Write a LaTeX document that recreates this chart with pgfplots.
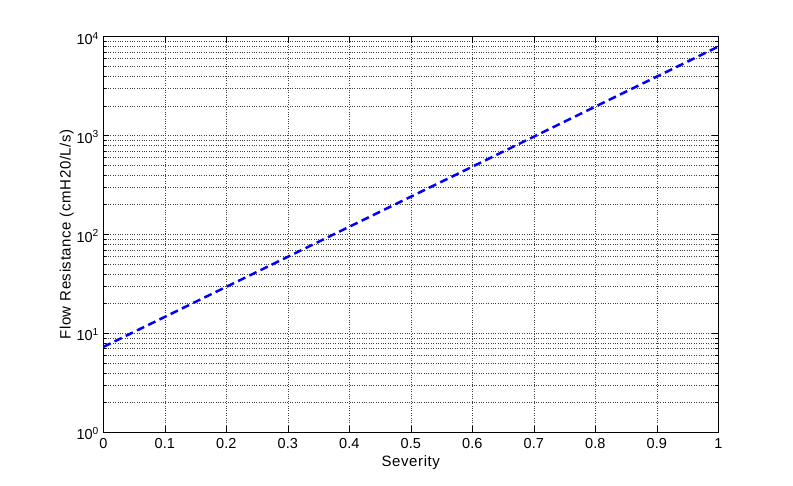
\documentclass[border=0pt]{standalone}
\usepackage{pgfplots}
\pgfplotsset{compat=1.18}
\usepackage{fontspec}
\setmainfont{Liberation Sans}
\begin{document}
\begin{tikzpicture}
\useasboundingbox (-103.3bp,-53.7bp) rectangle (689.7bp,432.3bp);
\begin{axis}[
  at={(0,0)}, anchor=south west,
  scale only axis, width=615bp, height=395.6bp,
  ymode=log, xmin=0, xmax=1, ymin=1, ymax=10000,
  xtick={0,0.1,0.2,0.3,0.4,0.5,0.6,0.7,0.8,0.9,1},
  xticklabels={0,0.1,0.2,0.3,0.4,0.5,0.6,0.7,0.8,0.9,1},
  ytick={1,10,100,1000,10000},
  yticklabels={10\textsuperscript{0},10\textsuperscript{1},10\textsuperscript{2},10\textsuperscript{3},10\textsuperscript{4}},
  minor ytick={2,3,4,5,6,7,8,9,20,30,40,50,60,70,80,90,200,300,400,500,600,700,800,900,2000,3000,4000,5000,6000,7000,8000,9000},
  grid=both,
  major grid style={dotted, black!75, line width=0.5bp},
  minor grid style={dotted, black!75, line width=0.5bp},
  tick align=inside,
  major tick length=6bp, minor tick length=3bp,
  tick style={black, line width=0.5bp},
  axis line style={black, line width=0.6bp},
  tick label style={font=\fontsize{14.5bp}{17bp}\selectfont},
  label style={font=\fontsize{15bp}{18bp}\selectfont\addfontfeatures{LetterSpace=4}},
  xlabel={Severity},
  ylabel={Flow Resistance (cmH20/L/s)},
  xticklabel style={yshift=-3bp},
  yticklabel style={yshift=-1.5bp, xshift=-1bp},
  xlabel style={yshift=0bp},
  ylabel style={yshift=-4bp},
]
\addplot[blue, line width=2.5bp, dash pattern=on 8bp off 4.5bp] coordinates {(0,7.3) (0.5,241) (1,7950)};
\end{axis}
\end{tikzpicture}
\end{document}
